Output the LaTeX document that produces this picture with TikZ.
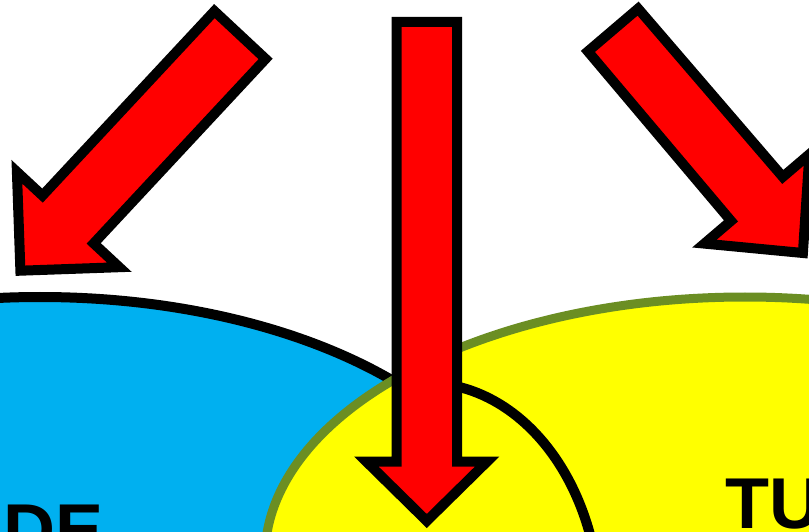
\documentclass[tikz,border=0pt]{standalone}
\usepackage{fontspec}
\newfontfamily\labelfont{Liberation Sans}
\definecolor{setblue}{HTML}{00B0F0}
\definecolor{setyellow}{HTML}{FFFF00}
\definecolor{setolive}{HTML}{6B8E23}
\definecolor{arrowred}{HTML}{FF0000}
\tikzset{
  blockarrow/.style={fill=arrowred, draw=black, line width=10pt, line join=miter},
  bluestyle/.style={fill=setblue, draw=black, line width=10pt},
  yellowstyle/.style={fill=setyellow, draw=setolive, line width=9pt},
  midarc/.style={draw=black, line width=10pt},
  biglabel/.style={inner sep=0pt, anchor=base west, font=\labelfont\bfseries\fontsize{72}{72}\selectfont}
}
\begin{document}
\begin{tikzpicture}[x=1pt, y=1pt]
\useasboundingbox (0,0) rectangle (809,531);
\clip (0,0) rectangle (809,531);
\fill[white] (0,0) rectangle (809,531);
% left set
\draw[bluestyle] (40,-26) ellipse [x radius=480pt, y radius=260pt];
% right set
\draw[yellowstyle] (745,-26) ellipse [x radius=480pt, y radius=260pt];
% middle arc
\draw[midarc] (427,148) arc [start angle=90, end angle=-15, x radius=173pt, y radius=228pt];
% labels
\node[biglabel] (de) at (3,-23.6) {DE};
\node[biglabel] (tu) at (725,2.4) {TU};
% left arrow
\draw[blockarrow] (214.4,519.9) -- (42.5,335.4) -- (16.9,359.2) -- (20.4,260.3)
  -- (119.3,263.8) -- (93.7,287.6) -- (265.6,472.1) -- cycle;
% middle arrow
\draw[blockarrow] (396.5,509) -- (457,509) -- (457,69.5) -- (487.25,69.5)
  -- (426.75,10) -- (366.25,69.5) -- (396.5,69.5) -- cycle;
% right arrow
\draw[blockarrow] (638.1,522.4) -- (587.9,479.6) -- (731.0,310.1) -- (704.4,287.4)
  -- (802.9,278) -- (809.4,376.8) -- (782.8,354.1) -- cycle;
\end{tikzpicture}
\end{document}
